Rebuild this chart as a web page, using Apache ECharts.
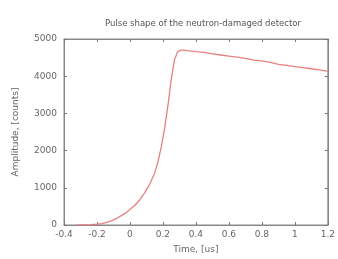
<!DOCTYPE html>
<html><head><meta charset="utf-8">
<script src="https://cdn.jsdelivr.net/npm/echarts@6/dist/echarts.min.js"></script>
<style>html,body{margin:0;padding:0;background:#fff}#c{width:338px;height:259px}</style>
</head><body><div id="c"></div>
<script>
var title = 'Pulse shape of the neutron-damaged detector';
var xName = 'Time, [us]';
var yName = 'Amplitude, [counts]';
var timeUs = [-0.32,-0.28,-0.24,-0.2,-0.17,-0.14,-0.11,-0.08,-0.05,-0.02,0,0.03,0.06,0.09,0.12,0.15,0.17,0.19,0.21,0.23,0.25,0.27,0.29,0.31,0.33,0.36,0.4,0.45,0.5,0.55,0.6,0.65,0.7,0.75,0.8,0.85,0.9,0.95,1.0,1.05,1.1,1.15,1.2];
var amplitude = [0,5,10,20,35,70,120,180,260,340,420,530,680,870,1100,1400,1700,2100,2600,3200,3900,4450,4660,4700,4700,4680,4660,4640,4600,4570,4540,4510,4480,4430,4410,4370,4320,4290,4260,4230,4200,4170,4130];
var xMin = -0.4, xMax = 1.2, xStep = 0.2;
var yMin = 0, yMax = 5000, yStep = 1000;

var pts = timeUs.map(function(t,i){return [t, amplitude[i]];});
var chart = echarts.init(document.getElementById('c'));
var tickStyle = {show:true, inside:true, length:3, lineStyle:{color:'#777'}};
var lineStyle = {show:true, onZero:false, lineStyle:{color:'#888', width:1}};
var lbl = {color:'#666', fontSize:9, fontFamily:'DejaVu Sans'};
chart.setOption({
  animation:false,
  title:{text:title, left:198, top:14, textAlign:'center', textStyle:{color:'#555', fontSize:8.5, fontWeight:'normal', fontFamily:'DejaVu Sans'}},
  grid:{left:64, right:7, top:39, bottom:31, show:true, borderColor:'#888', borderWidth:1},
  xAxis:[{type:'value', min:xMin, max:xMax, interval:xStep, name:xName, nameLocation:'middle', nameGap:20,
    nameTextStyle:{color:'#666', fontSize:9, fontFamily:'DejaVu Sans'},
    axisLine:lineStyle, axisTick:tickStyle, splitLine:{show:false},
    axisLabel:Object.assign({margin:5, formatter:function(v){return String(Math.round(v*10)/10);}}, lbl)},
    {type:'value', position:'top', min:xMin, max:xMax, interval:xStep, axisLine:lineStyle, axisTick:tickStyle, axisLabel:{show:false}, splitLine:{show:false}}],
  yAxis:[{type:'value', min:yMin, max:yMax, interval:yStep, name:yName, nameLocation:'middle', nameGap:44,
    nameTextStyle:{color:'#666', fontSize:9, fontFamily:'DejaVu Sans'},
    axisLine:lineStyle, axisTick:tickStyle, splitLine:{show:false},
    axisLabel:Object.assign({margin:7, formatter:function(v){return String(v);}}, lbl)},
    {type:'value', position:'right', min:yMin, max:yMax, interval:yStep, axisLine:lineStyle, axisTick:tickStyle, axisLabel:{show:false}, splitLine:{show:false}}],
  series:[{type:'line', data:pts, showSymbol:false, smooth:false, lineStyle:{color:'#e88080', width:1.3}}]
});
</script></body></html>
